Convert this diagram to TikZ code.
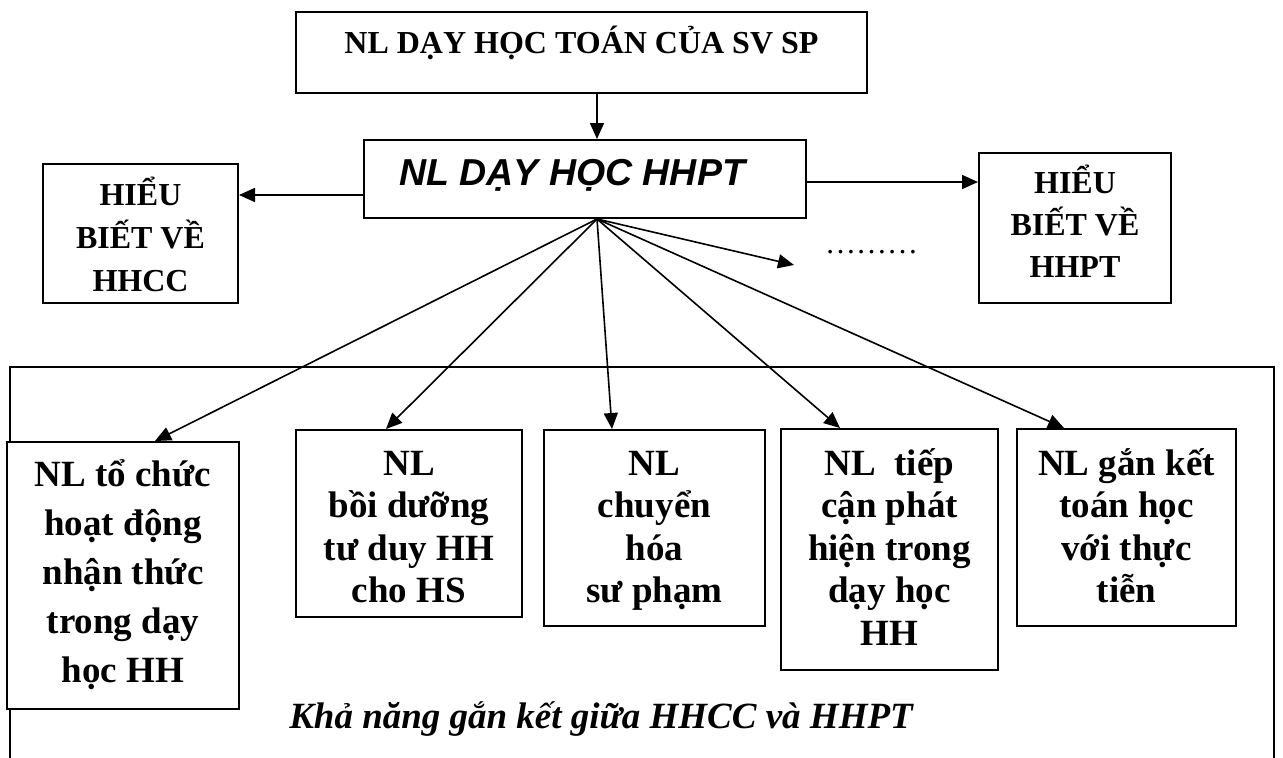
\documentclass[tikz,border=0pt]{standalone}
\usepackage{fontspec}
\setmainfont{Liberation Serif}
\newfontfamily\arialf{Liberation Sans}
\usetikzlibrary{arrows.meta,calc}
\newcommand\mylines[2]{\vtop{\baselineskip=#1\lineskiplimit=-1000pt\lineskip=0pt\halign{\hfil##\hfil\cr#2\crcr}}}
\tikzset{
  box/.style={draw, line width=2pt, fill=white, rectangle, inner sep=0pt},
  arr/.style={line width=1.6pt, -{Triangle[length=16pt,width=14pt]}},
  txt/.style={inner sep=0pt, anchor=base},
  bigtxt/.style={txt, font=\bfseries\fontsize{37}{42.5}\selectfont},
  smalltxt/.style={txt, font=\bfseries\fontsize{32}{43}\selectfont},
}
\begin{document}
\begin{tikzpicture}[x=1pt,y=-1pt]
\useasboundingbox (0,0) rectangle (1283,758);
\clip (0,0) rectangle (1283,758);
\fill[white] (0,0) rectangle (1283,758);
% outer frame
\draw[line width=2pt] (10,367) rectangle (1274,800);
% boxes
\node[box, minimum width=571pt, minimum height=81pt] (top) at (581.5,52.5) {};
\node[box, minimum width=442pt, minimum height=78pt] (mid) at (585,179) {};
\node[box, minimum width=195pt, minimum height=139pt] (hl) at (140.5,233.5) {};
\node[box, minimum width=192pt, minimum height=150pt] (hr) at (1075,228) {};
\node[box, minimum width=232pt, minimum height=267pt] (b1) at (123,575.5) {};
\node[box, minimum width=226pt, minimum height=187pt] (b2) at (409,523.5) {};
\node[box, minimum width=221pt, minimum height=196pt] (b3) at (654.5,528) {};
\node[box, minimum width=217pt, minimum height=241pt] (b4) at (889.5,549.5) {};
\node[box, minimum width=219pt, minimum height=197pt] (b5) at (1126.5,527.5) {};
% texts
\node[smalltxt] (ttop) at (581.5,53) {NL DẠY HỌC TOÁN CỦA SV SP};
\node[txt, anchor=base west, font=\arialf\bfseries\itshape\fontsize{37.5}{43}\selectfont] (tmid) at (399,185) {NL DẠY HỌC HHPT};
\node[smalltxt] (thl) at (140.5,205) {\mylines{43pt}{HIỂU\cr BIẾT VỀ\cr HHCC}};
\node[smalltxt] (thr) at (1075,193) {\mylines{42pt}{HIỂU\cr BIẾT VỀ\cr HHPT}};
\node[bigtxt] (tb1) at (123,486) {\mylines{49pt}{NL tổ chức\cr hoạt động\cr nhận thức\cr trong dạy\cr học HH}};
\node[bigtxt] (tb2) at (409,475) {\mylines{42.5pt}{NL\cr bồi dưỡng\cr tư duy HH\cr cho HS}};
\node[bigtxt] (tb3) at (654.5,475) {\mylines{42.5pt}{NL\cr chuyển\cr hóa\cr sư phạm}};
\node[bigtxt] (tb4) at (889.5,475) {\mylines{42.5pt}{NL\ \ tiếp\cr cận phát\cr hiện trong\cr dạy học\cr HH}};
\node[bigtxt] (tb5) at (1126.5,475) {\mylines{42.5pt}{NL gắn kết\cr toán học\cr với thực\cr tiễn}};
\node[txt, font=\bfseries\itshape\fontsize{37}{43}\selectfont] (cap) at (601,728) {Khả năng gắn kết giữa HHCC và HHPT};
\node[txt, font=\fontsize{31}{36}\selectfont] (dots) at (871.5,253) {………};
% connectors
\coordinate (apex) at ($(mid.south)+(12,0)$);
\coordinate (dotend) at (794,265);
\coordinate (ly) at ($(mid.west)+(0,16)$);
\coordinate (ry) at ($(mid.east)+(0,3)$);
\draw[arr] (top.south -| apex) -- (mid.north -| apex);
\draw[arr] (ly) -- (hl.east |- ly);
\draw[arr] (ry) -- (hr.west |- ry);
\draw[arr] (apex) -- (dotend);
\draw[arr] (apex) -- ($(b1.north)+(32,0)$);
\draw[arr] (apex) -- ($(b2.north)+(-23,0)$);
\draw[arr] (apex) -- ($(b3.north)+(-42.5,0)$);
\draw[arr] (apex) -- ($(b4.north)+(-49.5,0)$);
\draw[arr] (apex) -- ($(b5.north)+(-62.5,0)$);
\end{tikzpicture}
\end{document}
